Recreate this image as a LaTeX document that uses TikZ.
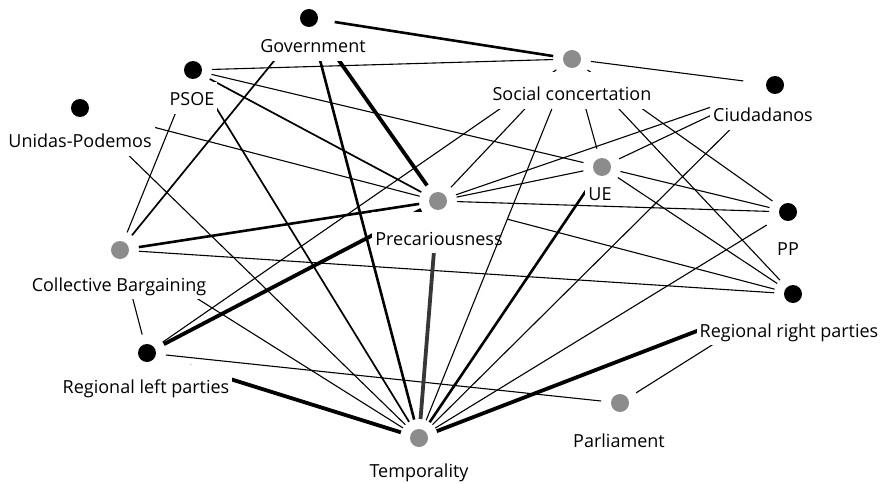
\documentclass[tikz,border=0pt]{standalone}
\usepackage{fontspec}
\setmainfont{Open Sans}
\definecolor{dotgray}{RGB}{140,140,140}
\definecolor{edgegray}{RGB}{55,55,55}
\begin{document}
\begin{tikzpicture}[x=1pt,y=-1pt,
  anc/.style={circle,minimum size=18pt,inner sep=0pt,outer sep=10pt},
  bdot/.style={circle,fill=black,minimum size=18pt,inner sep=0pt},
  gdot/.style={circle,fill=dotgray,minimum size=18pt,inner sep=0pt},
  lab/.style={fill=white,inner sep=3pt,text depth=5pt,anchor=base,font=\fontsize{18}{20}\selectfont},
  e1/.style={line width=1.1pt},
  e2/.style={line width=1.7pt},
  e3/.style={line width=2.6pt},
  e4/.style={line width=3.8pt},
]
\fill[white] (0,0) rectangle (886,484);
\useasboundingbox (0,0) rectangle (886,484);
% connector ends (node positions)
\node[anc] (gov) at (309,18) {};
\node[anc] (psoe) at (193,70) {};
\node[anc] (up) at (80,108) {};
\node[anc] (sc) at (572,59) {};
\node[anc] (ciud) at (775,85) {};
\node[anc] (ue) at (602,167) {};
\node[anc] (prec) at (438,201) {};
\node[anc] (pp) at (788,212) {};
\node[anc] (cb) at (120,250) {};
\node[anc] (rr) at (793,294) {};
\node[anc] (rl) at (147,353) {};
\node[anc] (parl) at (620,403) {};
\node[anc] (temp) at (419,438) {};
% connectors
\draw[e3,shorten <=7pt] (gov) -- (sc);
\draw[e2] (gov) -- (cb);
\draw[e3] (gov) -- (temp);
\draw[e4] (gov) -- (prec);
\draw[e1] (psoe) -- (sc);
\draw[e1] (psoe) -- (ue);
\draw[e2] (psoe) -- (prec);
\draw[e2] (psoe) -- (temp);
\draw[e1] (psoe) -- (cb);
\draw[e1] (up) -- (prec);
\draw[e1] (up) -- (temp);
\draw[e3] (cb) -- (prec);
\draw[e1] (cb) -- (rr);
\draw[e1] (cb) -- (rl);
\draw[e1] (cb) -- (temp);
\draw[e1] (rl) -- (sc);
\draw[e4] (rl) -- (prec);
\draw[e1] (rl) -- (parl);
\draw[e4,shorten <=26pt] (rl) -- (temp);
\draw[e1,shorten >=13pt] (sc) -- (ciud);
\draw[e1] (sc) -- (prec);
\draw[e1] (sc) -- (ue);
\draw[e1] (sc) -- (rr);
\draw[e1] (sc) -- (pp);
\draw[e1] (ciud) -- (prec);
\draw[e1] (ciud) -- (ue);
\draw[e1] (ciud) -- (temp);
\draw[e1] (ue) -- (pp);
\draw[e1] (ue) -- (rr);
\draw[e3] (ue) -- (temp);
\draw[e1] (ue) -- (prec);
\draw[e1] (prec) -- (pp);
\draw[e1,shorten <=53pt] (prec) -- (rr);
\draw[e4,edgegray] (prec) -- (temp);
\draw[e1,shorten <=6pt] (pp) -- (temp);
\draw[e4] (rr) -- (temp);
\draw[e1] (rr) -- (parl);
% labels
\node[lab,text height=20pt] (govl) at (313,53) {Government};
\node[lab,text height=21pt] (psoel) at (192,106) {PSOE};
\node[lab,text height=33pt] (upl) at (80,148) {Unidas-Podemos};
\node[lab,text height=26pt] (scl) at (572,101) {Social concertation};
\node[lab,text height=35pt] (ciudl) at (763,122) {Ciudadanos};
\node[lab,text height=21pt,text depth=0pt] (uel) at (600,200) {UE};
\node[lab,text height=30pt] (precl) at (439,245) {Precariousness};
\node[lab,text height=22pt] (ppl) at (788,255) {PP};
\node[lab,text height=31pt] (cbl) at (119,291) {Collective Bargaining};
\node[lab,text height=37pt] (rrl) at (789,337) {Regional right parties};
\node[lab,text height=25pt] (rll) at (146,393) {Regional left parties};
\node[lab,text height=32pt] (parll) at (619,447) {Parliament};
\node[lab,text height=27pt] (templ) at (419,477) {Temporality};
\draw[e1,shorten <=35pt] (sc) -- (temp);
% dots
\node[bdot] (gov-d) at (gov) {};
\node[bdot] (psoe-d) at (psoe) {};
\node[bdot] (up-d) at (up) {};
\node[gdot] (sc-d) at (sc) {};
\node[bdot] (ciud-d) at (ciud) {};
\node[gdot] (ue-d) at (ue) {};
\node[gdot] (prec-d) at (prec) {};
\node[bdot] (pp-d) at (pp) {};
\node[gdot] (cb-d) at (cb) {};
\node[bdot] (rr-d) at (rr) {};
\node[bdot] (rl-d) at (rl) {};
\node[gdot] (parl-d) at (parl) {};
\node[gdot] (temp-d) at (temp) {};
\end{tikzpicture}
\end{document}
